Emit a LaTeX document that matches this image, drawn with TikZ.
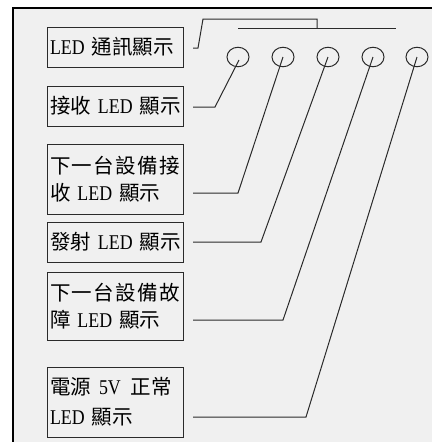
\documentclass[tikz,border=0pt]{standalone}
\usepackage{fontspec}
\setmainfont{Liberation Serif}[FakeStretch=0.85, Scale=1.05]
\newfontfamily\cjk{Noto Sans CJK TC}[Scale=1.025]
\newcommand\zh[1]{{\cjk #1}}
\newcommand\spreadrow[6]{\makebox[130pt][s]{\cjk #1\hfill #2\hfill #3\hfill #4\hfill #5\hfill #6}}
\usetikzlibrary{shapes.geometric}
\definecolor{bg}{HTML}{F0F0F0}
\definecolor{ink}{HTML}{2A2A2A}
\tikzset{
  labelbox/.style={draw=ink, line width=1pt, text width=130pt, inner xsep=3pt, inner ysep=0pt,
    align=left, anchor=center, font=\fontsize{20}{27}\selectfont},
  led/.style={draw=ink, line width=1pt, ellipse, minimum width=22pt, minimum height=19.5pt, inner sep=0pt},
  wire/.style={draw=ink, line width=1pt}
}
\begin{document}
\begin{tikzpicture}[x=1pt,y=-1pt]
\useasboundingbox (0,0) rectangle (432,442);
\fill[white] (0,0) rectangle (432,442);
\fill[bg] (13,8) rectangle (432,442);
\draw[black, line width=1.3pt] (13,442) -- (13,8) -- (432,8);

% boxes
\node[labelbox, minimum height=40pt] (b1) at (115,47) {\mbox{LED \zh{通訊顯示}}};
\node[labelbox, minimum height=40pt] (b2) at (115,106) {\mbox{\zh{接收} LED \zh{顯示}}};
\node[labelbox, minimum height=70pt] (b3) at (115,179) {\spreadrow{下}{一}{台}{設}{備}{接}\\\mbox{\zh{收} LED \zh{顯示}}};
\node[labelbox, minimum height=40pt] (b4) at (115,242) {\mbox{\zh{發射} LED \zh{顯示}}};
\node[labelbox, minimum height=68pt] (b5) at (115,306) {\spreadrow{下}{一}{台}{設}{備}{故}\\\mbox{\zh{障} LED \zh{顯示}}};
\node[labelbox, minimum height=70pt, font=\fontsize{20}{30}\selectfont] (b6) at (115,402) {\mbox{\zh{電源}\hspace{8pt}5V\hspace{10pt}\zh{正常}}\\\mbox{LED \zh{顯示}}};

% LEDs
\node[led] (c1) at (238,57) {};
\node[led] (c2) at (283,57) {};
\node[led] (c3) at (328,57) {};
\node[led] (c4) at (373,57) {};
\node[led] (c5) at (417,57) {};

% top connector
\coordinate (t0) at (193,48);
\coordinate (t1) at (198,48);
\coordinate (t2) at (203,19);
\coordinate (t3) at (317,19);
\coordinate (t4) at (317,28);
\coordinate (busl) at (238,28);
\coordinate (busr) at (396,28);
\draw[wire] (t0) -- (t1) -- (t2) -- (t3) -- (t4);
\draw[wire] (busl) -- (busr);

% leader lines
\coordinate (k1) at (215,107); \coordinate (e1) at (193,107);
\coordinate (k2) at (238,193); \coordinate (e2) at (193,193);
\coordinate (k3) at (261,242); \coordinate (e3) at (193,242);
\coordinate (k4) at (283,320); \coordinate (e4) at (193,320);
\coordinate (k5) at (306,417); \coordinate (e5) at (193,417);
\draw[wire] ([xshift=1pt,yshift=-3pt]c1.center) -- (k1) -- (e1);
\draw[wire] (c2.center) -- (k2) -- (e2);
\draw[wire] (c3.center) -- (k3) -- (e3);
\draw[wire] (c4.center) -- (k4) -- (e4);
\draw[wire] (c5.center) -- (k5) -- (e5);
\end{tikzpicture}
\end{document}
